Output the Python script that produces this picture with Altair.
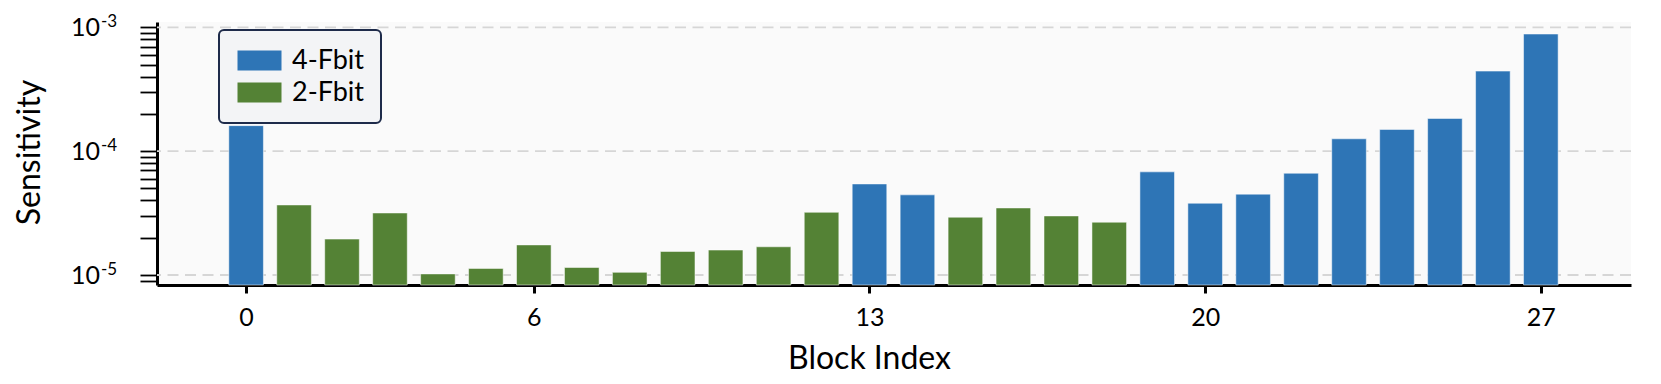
import altair as alt
import pandas as pd

FONT = "Lato"

blocks = list(range(28))
sensitivity = [1.61e-4, 3.68e-5, 1.95e-5, 3.17e-5, 1.02e-5, 1.13e-5, 1.75e-5,
               1.15e-5, 1.05e-5, 1.55e-5, 1.59e-5, 1.69e-5, 3.21e-5, 5.44e-5,
               4.44e-5, 2.93e-5, 3.48e-5, 3.00e-5, 2.67e-5, 6.81e-5, 3.80e-5,
               4.50e-5, 6.64e-5, 1.26e-4, 1.50e-4, 1.84e-4, 4.44e-4, 8.85e-4]
precision = ["4-Fbit", "2-Fbit", "2-Fbit", "2-Fbit", "2-Fbit", "2-Fbit", "2-Fbit",
             "2-Fbit", "2-Fbit", "2-Fbit", "2-Fbit", "2-Fbit", "2-Fbit", "4-Fbit",
             "4-Fbit", "2-Fbit", "2-Fbit", "2-Fbit", "2-Fbit", "4-Fbit", "4-Fbit",
             "4-Fbit", "4-Fbit", "4-Fbit", "4-Fbit", "4-Fbit", "4-Fbit", "4-Fbit"]

series_names = ["4-Fbit", "2-Fbit"]
series_colors = ["#2E75B6", "#548235"]

x_ticks = [0, 6, 13, 20, 27]
decades = [1e-5, 1e-4, 1e-3]
decade_base = ["10", "10", "10"]
decade_exp = ["-5", "-4", "-3"]
y_ticks = [9e-6,
           1e-5, 2e-5, 3e-5, 4e-5, 5e-5, 6e-5, 7e-5, 8e-5, 9e-5,
           1e-4, 2e-4, 3e-4, 4e-4, 5e-4, 6e-4, 7e-4, 8e-4, 9e-4,
           1e-3]

YMIN, YMAX = 8.30e-6, 1.107e-3

df = pd.DataFrame({"block": blocks, "sens": sensitivity, "precision": precision})
lab = pd.DataFrame({"v": decades, "base": decade_base, "exp": decade_exp})

yscale = alt.Scale(type="log", domain=[YMIN, YMAX], nice=False)
yaxis = alt.Axis(values=y_ticks, labels=False, grid=False, tickSize=17, tickWidth=1.8,
                 tickColor="black", domainColor="black", domainWidth=3,
                 title="Sensitivity", titleFont=FONT, titleFontSize=32,
                 titleFontWeight="normal", titleColor="black", titleAngle=270,
                 titleX=-118, titleY=130, titleAlign="center", titleBaseline="alphabetic")


def yenc(field):
    return alt.Y(field, type="quantitative", scale=yscale, axis=yaxis)


grid = alt.Chart(lab).mark_rule(strokeDash=[11, 6.5], color="#D6D6D6", strokeWidth=1.8).encode(
    y=yenc("v")
)

bars = alt.Chart(df).mark_bar(size=34.6, stroke="white", strokeWidth=1, strokeOpacity=0.5).encode(
    x=alt.X("block:Q",
            scale=alt.Scale(domain=[-1.754, 28.776], nice=False, zero=False),
            axis=alt.Axis(values=x_ticks, grid=False, tickSize=8, tickWidth=3,
                          tickColor="black", domainColor="black", domainWidth=3,
                          labelFont=FONT, labelFontSize=25, labelColor="black",
                          labelPadding=12, labelFlush=False,
                          title="Block Index", titleFont=FONT, titleFontSize=32,
                          titleFontWeight="normal", titleColor="black",
                          titleX=712, titleY=83, titleAlign="center",
                          titleBaseline="alphabetic")),
    y=yenc("sens"),
    y2=alt.datum(YMIN),
    color=alt.Color("precision:N",
                    scale=alt.Scale(domain=series_names, range=series_colors),
                    legend=alt.Legend(orient="none", legendX=62, legendY=8, title=None,
                                      fillColor="#F3F4F6", strokeColor="#1E2B4A",
                                      cornerRadius=5, padding=17, symbolOffset=10,
                                      symbolType="M-2.2,-1H2.2V1H-2.2Z",
                                      symbolSize=400, symbolStrokeWidth=0,
                                      labelFont=FONT, labelFontSize=27,
                                      labelColor="black", labelOffset=19,
                                      rowPadding=4)),
)

base_txt = alt.Chart(lab).mark_text(align="right", baseline="middle", font=FONT,
                                    fontSize=25, color="black", dy=1).encode(
    y=yenc("v"), x=alt.value(-57), text="base:N"
)
exp_txt = alt.Chart(lab).mark_text(align="left", baseline="middle", font=FONT,
                                   fontSize=17, color="black", dy=-5).encode(
    y=yenc("v"), x=alt.value(-56), text="exp:N"
)

chart = alt.layer(grid, bars, base_txt, exp_txt).properties(
    width=1474, height=263,
    autosize=alt.AutoSizeParams(type="none"),
    padding={"left": 149, "top": 14, "right": 22, "bottom": 95},
).configure_view(fill="#FAFAFA", strokeWidth=0).configure_legend(strokeWidth=2)

chart.save("out.html", embed_options={"renderer": "svg", "actions": False})
